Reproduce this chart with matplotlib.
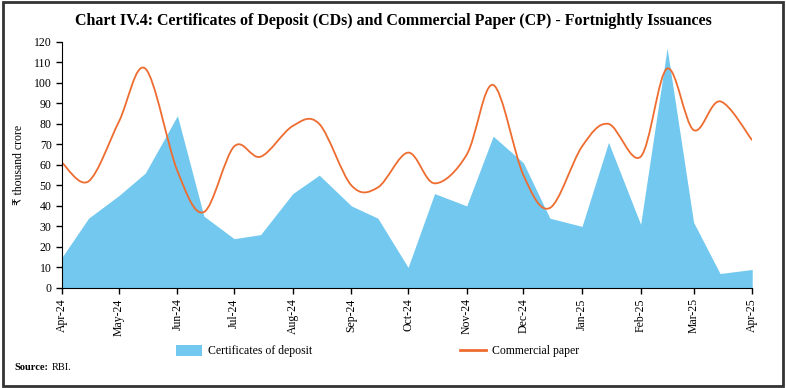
import numpy as np
import pandas as pd
import matplotlib
matplotlib.use("Agg")
import matplotlib.pyplot as plt
import matplotlib.dates as mdates
from matplotlib.path import Path
from matplotlib.patches import PathPatch, Rectangle, Patch
from matplotlib.lines import Line2D

plt.rcParams['font.family'] = ['Liberation Serif', 'DejaVu Sans']

# fortnightly dates: 1st and 15th of each month, Apr-24 .. Apr-25
dates = []
for m in pd.date_range("2024-04-01", "2025-03-01", freq="MS"):
    dates.append(m)
    dates.append(m + pd.Timedelta(days=14))
dates.append(pd.Timestamp("2025-04-01"))

cd = [15, 34, 45, 56, 84, 35, 24, 26, 46, 55, 40, 34, 10,
      46, 40, 74, 61, 34, 30, 71, 31, 117, 32, 7, 9]
cp = [61, 52, 81, 107, 57, 37, 69, 64, 79, 80, 50, 49, 66,
      51, 65, 99, 55, 39, 69, 80, 64, 107, 77, 91, 72]

cd_color = "#72C8EF"
cp_color = "#EE6C2F"

x = mdates.date2num(dates)

fig = plt.figure(figsize=(7.86, 3.88), dpi=100)
ax = fig.add_axes([0.079, 0.258, 0.878, 0.634])

ax.fill_between(x, 0, cd, color=cd_color, linewidth=0)

# smoothed line (catmull-rom as bezier segments)
pts = np.column_stack([x, cp])
ext = np.vstack([pts[0], pts, pts[-1]])
verts = [tuple(pts[0])]
codes = [Path.MOVETO]
for i in range(len(pts) - 1):
    p0, p1, p2, p3 = ext[i], ext[i + 1], ext[i + 2], ext[i + 3]
    c1 = p1 + (p2 - p0) / 6
    c2 = p2 - (p3 - p1) / 6
    verts += [tuple(c1), tuple(c2), tuple(p2)]
    codes += [Path.CURVE4] * 3
ax.add_patch(PathPatch(Path(verts, codes), facecolor="none",
                       edgecolor=cp_color, linewidth=1.3))

ax.set_xlim(x[0], x[-1])
ax.set_ylim(0, 120)
ax.set_yticks(range(0, 121, 10))
ax.xaxis.set_major_locator(mdates.MonthLocator())
ax.xaxis.set_major_formatter(mdates.DateFormatter("%b-%y"))
for lab in ax.get_xticklabels():
    lab.set_rotation(90)
ax.tick_params(labelsize=8.5, length=4, width=1, color="black")
ax.spines["top"].set_visible(False)
ax.spines["right"].set_visible(False)
ax.set_ylabel("₹ thousand crore", fontsize=8.5, labelpad=6)

fig.text(0.5, 0.945, "Chart IV.4: Certificates of Deposit (CDs) and Commercial Paper (CP) - Fortnightly Issuances",
         ha="center", va="center", fontsize=11.5, fontweight="bold")

handles = [Patch(facecolor=cd_color, edgecolor="none"),
           Line2D([], [], color=cp_color, linewidth=2)]
fig.legend(handles, ["Certificates of deposit", "Commercial paper"],
           loc="center", bbox_to_anchor=(0.48, 0.095), ncol=2, frameon=False,
           fontsize=8.5, columnspacing=12.5, handlelength=2.2, handleheight=1.0,
           handletextpad=0.5)

fig.text(0.018, 0.052, "Source:", fontsize=7.5, fontweight="bold", va="center")
fig.text(0.066, 0.052, "RBI.", fontsize=7.5, va="center")

fig.patches.append(Rectangle((0.004, 0.006), 0.992, 0.988, transform=fig.transFigure,
                             fill=False, edgecolor="#333333", linewidth=2))

fig.savefig("out.png", dpi=100)
